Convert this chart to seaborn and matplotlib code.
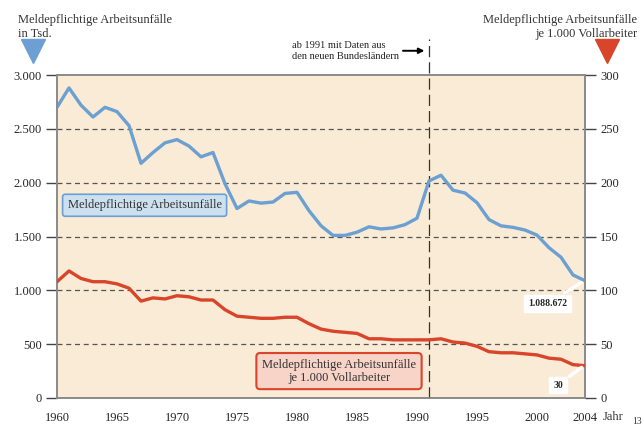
import matplotlib
matplotlib.use("Agg")
import matplotlib.pyplot as plt
import seaborn as sns
import pandas as pd
from matplotlib.lines import Line2D

years = list(range(1960, 2005))
unfaelle_tsd = [2700, 2880, 2720, 2610, 2700, 2660, 2530, 2180, 2280, 2370,
                2400, 2340, 2240, 2280, 1990, 1760, 1830, 1810, 1820, 1900,
                1910, 1740, 1600, 1510, 1510, 1540, 1590, 1570, 1580, 1610,
                1670, 2016, 2069, 1930, 1904, 1814, 1657, 1599, 1585, 1560,
                1513, 1396, 1307, 1143, 1089]
je_1000 = [108, 118, 111, 108, 108, 106, 102, 90, 93, 92,
           95, 94, 91, 91, 82, 76, 75, 74, 74, 75,
           75, 69, 64, 62, 61, 60, 55, 55, 54, 54,
           54, 54, 55, 52, 51, 48, 43, 42, 42, 41,
           40, 37, 36, 31, 30]
left_ticks = [0, 500, 1000, 1500, 2000, 2500, 3000]
left_labels = ["0", "500", "1.000", "1.500", "2.000", "2.500", "3.000"]
right_ticks = [0, 50, 100, 150, 200, 250, 300]
right_labels = ["0", "50", "100", "150", "200", "250", "300"]
x_ticks = [1960, 1965, 1970, 1975, 1980, 1985, 1990, 1995, 2000, 2004]

df = pd.DataFrame({"Jahr": years, "Unfaelle": unfaelle_tsd, "Je1000": je_1000})

sns.set_style("white")
plt.rcParams["font.family"] = ["Liberation Serif", "DejaVu Serif"]

W, H = 644, 430
fig = plt.figure(figsize=(W / 100, H / 100), dpi=100)
ax = fig.add_axes([57 / W, 1 - 398 / H, (585 - 57) / W, (398 - 75) / H])
ax2 = ax.twinx()

blue = "#6c9fd2"
red = "#d8452a"
grid_c = "#555555"
spine_c = "#8a8a8a"

ax.set_facecolor("#f9ebd5")
ax.set_zorder(1)
ax2.set_zorder(2)
ax2.patch.set_visible(False)

sns.lineplot(data=df, x="Jahr", y="Unfaelle", ax=ax, color=blue, linewidth=2.4, zorder=5)
sns.lineplot(data=df, x="Jahr", y="Je1000", ax=ax2, color=red, linewidth=2.4, zorder=5)

ax.set_xlim(1960, 2004)
ax.set_ylim(0, 3000)
ax2.set_ylim(0, 300)
ax.set_xlabel("")
ax.set_ylabel("")
ax2.set_ylabel("")

ax.set_yticks(left_ticks)
ax.set_yticklabels(left_labels)
ax2.set_yticks(right_ticks)
ax2.set_yticklabels(right_labels)
ax.set_xticks(x_ticks)
ax.set_xticklabels([str(v) for v in x_ticks])
ax.set_xticks(years, minor=True)

for a in (ax, ax2):
    for s in a.spines.values():
        s.set_color(spine_c)
        s.set_linewidth(1.2)
ax.tick_params(axis="x", which="both", direction="out", length=6, width=1, color="#444444",
               labelsize=9, pad=4)
ax.tick_params(axis="y", direction="out", length=8, width=1, color="#444444", labelsize=9, pad=3)
ax2.tick_params(axis="y", direction="out", length=8, width=1, color="#444444", labelsize=9, pad=3)

for v in left_ticks[1:-1]:
    ax.axhline(v, color=grid_c, lw=0.9, ls=(0, (4, 3)), zorder=2)

# 1991 vertical line
ax.plot([1991, 1991], [0, 3330], color="#333333", lw=0.9, ls=(0, (9, 4)),
        clip_on=False, zorder=3)
ax.annotate("", xy=(1990.85, 3225), xytext=(1988.6, 3225),
            arrowprops=dict(arrowstyle="-|>", color="black", lw=1.4, mutation_scale=8),
            annotation_clip=False)
fig.text(292 / W, 1 - 51 / H, "ab 1991 mit Daten aus\nden neuen Bundesländern",
         fontsize=7.5, va="center", ha="left", linespacing=1.15, color="#222222")

# headers
fig.text(18 / W, 1 - 27 / H, "Meldepflichtige Arbeitsunfälle\nin Tsd.", fontsize=9,
         va="center", ha="left", linespacing=1.2, color="#333333")
fig.text(637 / W, 1 - 27 / H, "Meldepflichtige Arbeitsunfälle\nje 1.000 Vollarbeiter",
         fontsize=9, va="center", ha="right", multialignment="right", linespacing=1.2,
         color="#333333")
fig.add_artist(Line2D([33 / W], [1 - 51 / H], marker="v", markersize=17, color=blue,
                      linestyle="none", transform=fig.transFigure))
fig.add_artist(Line2D([607 / W], [1 - 51 / H], marker="v", markersize=17, color=red,
                      linestyle="none", transform=fig.transFigure))

# series labels
ax.text(1967.3, 1790, "Meldepflichtige Arbeitsunfälle", fontsize=9, ha="center",
        va="center", color="#333333", zorder=6,
        bbox=dict(boxstyle="round,pad=0.4,rounding_size=0.2", fc="#cde0ef", ec=blue, lw=1.2))
ax2.text(1983.5, 25, "Meldepflichtige Arbeitsunfälle\nje 1.000 Vollarbeiter", fontsize=9,
         ha="center", va="center", color="#333333", linespacing=1.1, zorder=6,
         bbox=dict(boxstyle="round,pad=0.45,rounding_size=0.3", fc="#f7d3c8", ec=red, lw=1.5))

# value callouts
ax.annotate("1.088.672", xy=(2003.9, 1085), xytext=(2000.9, 880), fontsize=7,
            fontweight="bold", ha="center", va="center", zorder=7,
            bbox=dict(boxstyle="square,pad=0.4", fc="white", ec="white"),
            arrowprops=dict(arrowstyle="-", color="white", lw=2.5))
ax2.annotate("30", xy=(2003.9, 30), xytext=(2001.75, 12), fontsize=7,
             fontweight="bold", ha="center", va="center", zorder=7,
             bbox=dict(boxstyle="square,pad=0.4", fc="white", ec="white"),
             arrowprops=dict(arrowstyle="-", color="white", lw=2.5))

fig.text(603 / W, 1 - 417 / H, "Jahr", fontsize=9, ha="left", va="center", color="#333333")
fig.text(642 / W, 1 - 421 / H, "13", fontsize=7, ha="right", va="center", color="#333333")

fig.savefig("out.png", dpi=100)
